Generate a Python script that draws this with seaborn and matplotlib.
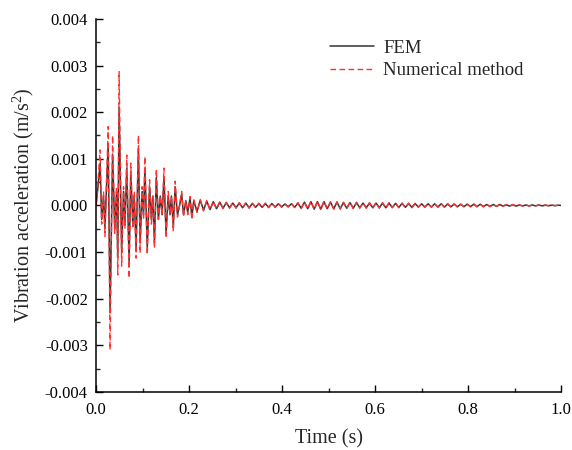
import numpy as np
import pandas as pd
import matplotlib
matplotlib.use("Agg")
import matplotlib.pyplot as plt
from matplotlib.ticker import MultipleLocator, FormatStrFormatter
import seaborn as sns

# ---- data (extremum times in s, accelerations in m/s^2) ----
t_early = [0.000, 0.004, 0.0086, 0.012, 0.016, 0.019, 0.022, 0.026, 0.030, 0.0355,
           0.040, 0.044, 0.0466, 0.0495, 0.055, 0.059, 0.062, 0.066, 0.071, 0.0746,
           0.079, 0.082, 0.086, 0.091, 0.0946, 0.099, 0.102, 0.105, 0.110, 0.115,
           0.119, 0.122, 0.1255, 0.1295, 0.134, 0.138, 0.142, 0.146, 0.1505, 0.155,
           0.159, 0.162, 0.166, 0.170, 0.175, 0.1795, 0.184, 0.188, 0.193, 0.197,
           0.202, 0.206, 0.210]

num_early = [0, 0.0005, 0.00119, -0.0004, 0.0003, -0.00067, 0.0004, 0.00169, -0.0031, 0.0015,
             -0.0006, 0.0004, -0.00149, 0.00287, -0.0013, 0.0004, -0.0005, 0.00108, -0.00156, 0.00091,
             -0.0005, 0.0003, -0.00113, 0.0015, -0.00102, 0.0004, -0.0003, 0.00105, -0.00106, 0.00055,
             -0.0004, 0.0002, -0.00092, 0.00078, -0.0003, 0.0002, -0.0002, 0.0008, -0.0007, 0.0003,
             -0.0002, 0.0002, -0.00056, 0.00052, -0.00025, 0.0000, 0.0003, -0.00024, 0.0001, -0.0002,
             0.00019, -0.00031, 0.00012]

fem_early = [0, 0.0004, 0.0009, -0.0003, 0.0002, -0.0005, 0.0003, 0.0013, -0.0023, 0.0011,
             -0.0005, 0.0003, -0.0011, 0.0021, -0.0010, 0.0003, -0.0004, 0.0008, -0.0012, 0.0007,
             -0.0004, 0.0002, -0.0009, 0.0012, -0.0008, 0.0003, -0.0002, 0.0008, -0.0009, 0.0004,
             -0.0003, 0.0002, -0.0008, 0.0006, -0.0003, 0.0002, -0.0002, 0.0006, -0.0006, 0.0002,
             -0.0002, 0.0002, -0.00045, 0.0004, -0.0002, 0.0000, 0.00025, -0.0002, 0.0001, -0.00015,
             0.00016, -0.00025, 0.0001]

t_late = [0.217, 0.224, 0.231, 0.238, 0.245, 0.252, 0.259, 0.266, 0.273, 0.280,
          0.287, 0.294, 0.301, 0.308, 0.315, 0.322, 0.329, 0.336, 0.343, 0.350,
          0.357, 0.364, 0.371, 0.378, 0.385, 0.392, 0.399, 0.406, 0.413, 0.420,
          0.427, 0.434, 0.441, 0.448, 0.455, 0.462, 0.469, 0.476, 0.483, 0.490,
          0.497, 0.504, 0.511, 0.518, 0.525, 0.532, 0.539, 0.546, 0.553, 0.560,
          0.567, 0.574, 0.581, 0.588, 0.595, 0.602, 0.609, 0.616, 0.623, 0.630,
          0.637, 0.644, 0.651, 0.658, 0.665, 0.672, 0.679, 0.686, 0.693, 0.700,
          0.707, 0.714, 0.721, 0.728, 0.735, 0.742, 0.749, 0.756, 0.763, 0.770,
          0.777, 0.784, 0.791, 0.798, 0.805, 0.812, 0.819, 0.826, 0.833, 0.840,
          0.847, 0.854, 0.861, 0.868, 0.875, 0.882, 0.889, 0.896, 0.903, 0.910,
          0.917, 0.924, 0.931, 0.938, 0.945, 0.952, 0.959, 0.966, 0.973, 0.980,
          0.987, 0.994, 1.000]

num_late = [-15e-5, 13e-5, -12e-5, 11e-5, -10e-5, 9e-5, -8e-5,
            8e-5, -7e-5, 7e-5, -6e-5, 6e-5, -6e-5,
            6e-5, -6e-5, 6e-5, -6e-5, 5e-5, -5e-5, 5e-5, -5e-5, 5e-5, -5e-5, 5e-5,
            -4e-5, 4e-5, -4e-5, 3e-5, -3e-5, 4e-5, -5e-5,
            6e-5, -7e-5, 8e-5, -8e-5, 9e-5, -9e-5, 9e-5, -9e-5, 9e-5, -8e-5, 8e-5, -8e-5, 8e-5, -8e-5, 7e-5, -7e-5, 7e-5,
            -7e-5, 7e-5, -6e-5, 6e-5, -6e-5, 6e-5, -6e-5, 6e-5, -6e-5, 6e-5, -6e-5, 6e-5,
            -5e-5, 5e-5, -5e-5, 5e-5, -5e-5, 5e-5, -5e-5, 4e-5, -4e-5, 4e-5, -4e-5, 4e-5,
            -4e-5, 4e-5, -4e-5, 4e-5, -4e-5, 4e-5, -4e-5, 3e-5, -3e-5, 3e-5, -3e-5, 3e-5, -3e-5, 3e-5, -3e-5, 3e-5, -3e-5, 3e-5, -3e-5, 2e-5,
            -2e-5, 2e-5, -2e-5, 2e-5, -2e-5, 2e-5, -1.5e-5, 1.5e-5, -1.5e-5, 1.5e-5, -1.5e-5, 1e-5, -1e-5, 1e-5, -1e-5, 1e-5, -1e-5, 1e-5, -0.5e-5, 0.5e-5,
            0]

fem_late = [-13e-5, 11e-5, -10e-5, 9e-5, -9e-5, 8e-5, -7e-5,
            7e-5, -6e-5, 6e-5, -5e-5, 5e-5, -5e-5,
            5e-5, -5e-5, 5e-5, -5e-5, 4e-5, -4e-5, 4e-5, -4e-5, 4e-5, -4e-5, 4e-5,
            -3.5e-5, 3.5e-5, -3e-5, 3e-5, -3e-5, 3.5e-5, -4e-5,
            5e-5, -6e-5, 7e-5, -7e-5, 8e-5, -8e-5, 8e-5, -8e-5, 8e-5, -7e-5, 7e-5, -7e-5, 7e-5, -7e-5, 6e-5, -6e-5, 6e-5,
            -6e-5, 6e-5, -5e-5, 5e-5, -5e-5, 5e-5, -5e-5, 5e-5, -5e-5, 5e-5, -5e-5, 5e-5,
            -4.5e-5, 4.5e-5, -4.5e-5, 4.5e-5, -4e-5, 4e-5, -4e-5, 4e-5, -3.5e-5, 3.5e-5, -3.5e-5, 3.5e-5,
            -3.5e-5, 3.5e-5, -3.5e-5, 3.5e-5, -3.5e-5, 3e-5, -3e-5, 3e-5, -3e-5, 2.5e-5, -2.5e-5, 2.5e-5, -2.5e-5, 2.5e-5, -2.5e-5, 2.5e-5, -2.5e-5, 2e-5, -2e-5, 2e-5,
            -2e-5, 2e-5, -1.5e-5, 1.5e-5, -1.5e-5, 1.5e-5, -1.5e-5, 1e-5, -1e-5, 1e-5, -1e-5, 1e-5, -1e-5, 1e-5, -1e-5, 0.5e-5, -0.5e-5, 0.5e-5, -0.5e-5, 0.5e-5,
            0]

x_ticks = [0.0, 0.2, 0.4, 0.6, 0.8, 1.0]
y_ticks = [-0.004, -0.003, -0.002, -0.001, 0.000, 0.001, 0.002, 0.003, 0.004]

# ---- build table ----
fem_df = pd.DataFrame({"t": t_early + t_late, "a": fem_early + fem_late})
num_df = pd.DataFrame({"t": t_early + t_late, "a": num_early + num_late})

sns.set_style("ticks")
plt.rcParams["font.family"] = ["Liberation Serif", "DejaVu Serif"]
plt.rcParams["mathtext.fontset"] = "custom"
plt.rcParams["mathtext.rm"] = "Liberation Serif"
plt.rcParams["mathtext.it"] = "Liberation Serif:italic"
plt.rcParams["axes.unicode_minus"] = False

fig = plt.figure(figsize=(5.72, 4.5), dpi=100)
ax = fig.add_axes([0.168, 0.129, 0.813, 0.829])

sns.lineplot(data=fem_df, x="t", y="a", sort=False, color="#333333", linewidth=1.1,
             label="FEM", ax=ax)
sns.lineplot(data=num_df, x="t", y="a", sort=False, color="#ff3030", linewidth=1.0,
             linestyle=(0, (4, 2.5)), label="Numerical method", ax=ax)

ax.set_xlim(0, 1.0)
ax.set_ylim(-0.004, 0.004)
ax.set_xticks(x_ticks)
ax.set_yticks(y_ticks)
ax.xaxis.set_minor_locator(MultipleLocator(0.1))
ax.yaxis.set_minor_locator(MultipleLocator(0.0005))
ax.xaxis.set_major_formatter(FormatStrFormatter("%.1f"))
ax.yaxis.set_major_formatter(FormatStrFormatter("%.3f"))
ax.tick_params(which="major", direction="in", length=5, width=1, labelsize=12, colors="black")
ax.tick_params(axis="x", which="major", pad=7)
ax.tick_params(axis="y", which="major", pad=6)
ax.tick_params(which="minor", direction="in", length=3, width=1)
for s in ["top", "right"]:
    ax.spines[s].set_visible(False)
for s in ["left", "bottom"]:
    ax.spines[s].set_linewidth(1.1)
    ax.spines[s].set_color("black")

ax.set_xlabel("Time (s)", fontsize=14.5, labelpad=8)
ax.set_ylabel("Vibration acceleration (m/s$^{2}$)", fontsize=14.5, labelpad=6)

leg = ax.legend(loc="upper right", bbox_to_anchor=(0.955, 0.99), frameon=False,
                fontsize=13.5, handlelength=2.3, handletextpad=0.5, labelspacing=0.3)

fig.savefig("out.png", dpi=100)
